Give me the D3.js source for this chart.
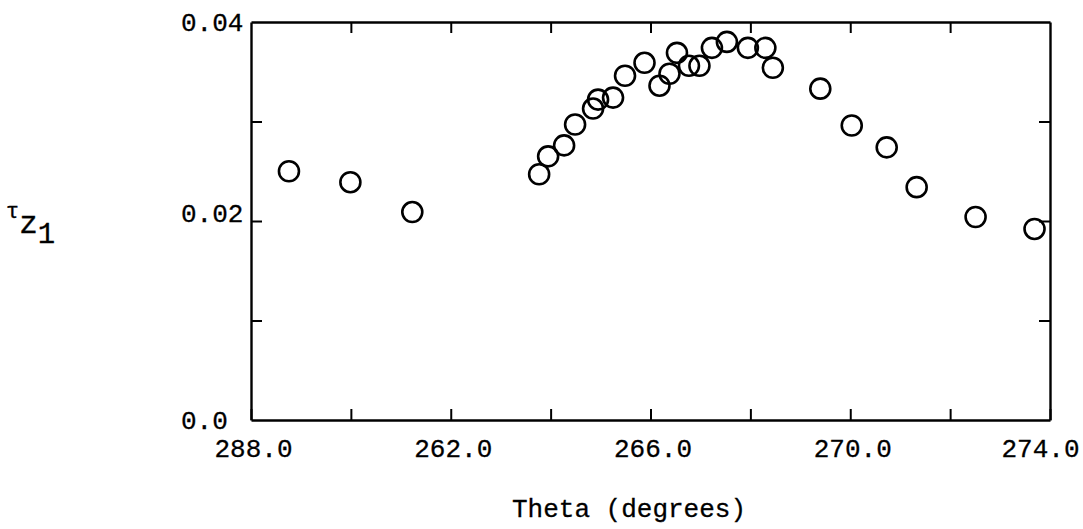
<!DOCTYPE html>
<html lang="en">
<head>
  <meta charset="UTF-8">
  <title>Tau z1 vs Theta</title>
  <script src="https://d3js.org/d3.v7.min.js"></script>
  <style>
    body { margin: 0; background: #fff; }
    text { font-family: "Liberation Mono", "DejaVu Sans Mono", monospace; fill: #000; stroke: #000; stroke-width: 0.3px; }
  </style>
</head>
<body>
  <div id="chart"></div>
  <script>
    // Data
    const theta = [258.76, 259.99, 261.23, 263.77, 263.95, 264.27, 264.49, 264.85, 264.95, 265.25,
                   265.49, 265.88, 266.18, 266.38, 266.53, 266.77, 266.98, 267.23, 267.53, 267.95,
                   268.30, 268.45, 269.40, 270.03, 270.73, 271.33, 272.51, 273.69];
    const tauZ1 = [0.0250, 0.0239, 0.0209, 0.0247, 0.0265, 0.0276, 0.0297, 0.0313, 0.0322, 0.0324,
                   0.0346, 0.0359, 0.0336, 0.0348, 0.0369, 0.0356, 0.0356, 0.0374, 0.0380, 0.0374,
                   0.0374, 0.0354, 0.0333, 0.0296, 0.0274, 0.0234, 0.0204, 0.0192];
    const xTickValues = [258, 262, 266, 270, 274];
    const xTickLabels = ["288.0", "262.0", "266.0", "270.0", "274.0"];
    const yTickValues = [0, 0.02, 0.04];
    const yTickLabels = ["0.0", "0.02", "0.04"];

    const points = theta.map((t, i) => ({ t, v: tauZ1[i] }));

    const width = 1083, height = 529;
    const margin = { top: 22, right: 33, bottom: 109, left: 251 };

    const svg = d3.select('#chart').append('svg')
      .attr('width', width)
      .attr('height', height);

    const x = d3.scaleLinear().domain([258, 274]).range([margin.left, width - margin.right]);
    const y = d3.scaleLinear().domain([0, 0.04]).range([height - margin.bottom, margin.top]);

    const minorX = d3.range(258, 274.01, 2);
    const minorY = [0.01, 0.02, 0.03];

    function styleFrame(g) {
      g.select('.domain').attr('stroke-width', 2.4);
      g.selectAll('.tick line').attr('stroke-width', 2);
    }

    // frame with inward ticks
    svg.append('g')
      .attr('transform', `translate(0,${y(0)})`)
      .call(d3.axisBottom(x).tickValues(minorX).tickSizeInner(-11).tickSizeOuter(0).tickFormat(''))
      .call(styleFrame);
    svg.append('g')
      .attr('transform', `translate(0,${y(0.04)})`)
      .call(d3.axisTop(x).tickValues(minorX.slice(1, -1)).tickSizeInner(-11).tickSizeOuter(0).tickFormat(''))
      .call(styleFrame);
    svg.append('g')
      .attr('transform', `translate(${x(258)},0)`)
      .call(d3.axisLeft(y).tickValues(minorY).tickSizeInner(-11).tickSizeOuter(0).tickFormat(''))
      .call(styleFrame);
    svg.append('g')
      .attr('transform', `translate(${x(274)},0)`)
      .call(d3.axisRight(y).tickValues(minorY).tickSizeInner(-11).tickSizeOuter(0).tickFormat(''))
      .call(styleFrame);

    // tick labels
    const xl = svg.append('g')
      .attr('transform', `translate(0,${y(0)})`)
      .call(d3.axisBottom(x).tickValues(xTickValues).tickSize(0).tickPadding(19)
        .tickFormat((d, i) => xTickLabels[i]));
    xl.select('.domain').remove();
    xl.selectAll('text')
      .attr('font-size', 26)
      .attr('font-family', '"Liberation Mono", monospace')
      .attr('dx', (d, i) => i === xTickLabels.length - 1 ? -10 : 2);

    const yl = svg.append('g')
      .attr('transform', `translate(${x(258)},0)`)
      .call(d3.axisLeft(y).tickValues(yTickValues).tickSize(0)
        .tickFormat((d, i) => yTickLabels[i]));
    yl.select('.domain').remove();
    yl.selectAll('text')
      .attr('font-size', 26)
      .attr('font-family', '"Liberation Mono", monospace')
      .attr('text-anchor', 'start')
      .attr('x', 181 - x(258))
      .attr('dy', (d, i) => i === 1 ? '0' : '0.32em');

    // markers
    svg.append('g').selectAll('circle')
      .data(points)
      .join('circle')
      .attr('cx', d => x(d.t))
      .attr('cy', d => y(d.v))
      .attr('r', 10)
      .attr('fill', 'none')
      .attr('stroke', '#000')
      .attr('stroke-width', 2.6);

    // axis titles
    svg.append('text')
      .attr('x', 629)
      .attr('y', 517)
      .attr('text-anchor', 'middle')
      .attr('font-size', 26)
      .text('Theta (degrees)');

    const yt = svg.append('text').attr('x', 6).attr('y', 218);
    yt.append('tspan').attr('font-size', 22).text('τ');
    yt.append('tspan').attr('font-size', 31).attr('dy', 15).text('z');
    yt.append('tspan').attr('font-size', 29).attr('dy', 10).text('1');
  </script>
</body>
</html>
